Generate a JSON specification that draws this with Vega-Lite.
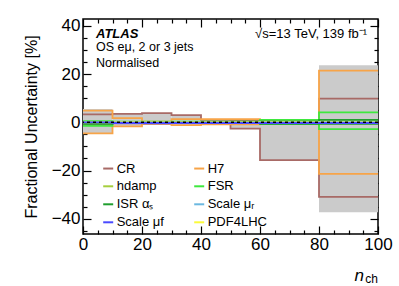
{
  "$schema": "https://vega.github.io/schema/vega-lite/v6.json",
  "width": 295,
  "height": 215,
  "autosize": {"type": "none"},
  "padding": {"left": 83, "top": 19, "right": 21, "bottom": 52},
  "background": "white",
  "config": {
    "view": {"stroke": "black", "strokeWidth": 1.5},
    "font": "Liberation Sans",
    "axis": {"grid": false, "domain": false, "tickColor": "black", "labelColor": "black", "titleColor": "black", "labelFont": "Liberation Sans", "titleFont": "Liberation Sans", "tickWidth": 1.2}
  },
  "datasets": {
    "band": [
      {"x0": 0, "x1": 10, "lo": -4.8, "hi": 5.5},
      {"x0": 10, "x1": 20, "lo": -1.7, "hi": 3.5},
      {"x0": 20, "x1": 30, "lo": -0.6, "hi": 3.8},
      {"x0": 30, "x1": 40, "lo": -1.2, "hi": 3.0},
      {"x0": 40, "x1": 50, "lo": -1.0, "hi": 1.3},
      {"x0": 50, "x1": 60, "lo": -2.6, "hi": 1.3},
      {"x0": 60, "x1": 80, "lo": -15.7, "hi": 1.2},
      {"x0": 80, "x1": 100, "lo": -37.3, "hi": 23.6}
    ],
    "sys": [
      {"s": "CR", "v": "CRa", "x": 0, "y": 3.3}, {"s": "CR", "v": "CRa", "x": 10, "y": 3.5}, {"s": "CR", "v": "CRa", "x": 20, "y": 3.8}, {"s": "CR", "v": "CRa", "x": 30, "y": 3.0}, {"s": "CR", "v": "CRa", "x": 40, "y": 1.0}, {"s": "CR", "v": "CRa", "x": 50, "y": 0.8}, {"s": "CR", "v": "CRa", "x": 60, "y": 0.5}, {"s": "CR", "v": "CRa", "x": 80, "y": 9.8}, {"s": "CR", "v": "CRa", "x": 100, "y": 9.8},
      {"s": "CR", "v": "CRb", "x": 0, "y": -0.6}, {"s": "CR", "v": "CRb", "x": 10, "y": -0.4}, {"s": "CR", "v": "CRb", "x": 20, "y": -0.6}, {"s": "CR", "v": "CRb", "x": 30, "y": -0.3}, {"s": "CR", "v": "CRb", "x": 40, "y": -0.6}, {"s": "CR", "v": "CRb", "x": 50, "y": -2.6}, {"s": "CR", "v": "CRb", "x": 60, "y": -15.7}, {"s": "CR", "v": "CRb", "x": 80, "y": -30.9}, {"s": "CR", "v": "CRb", "x": 100, "y": -30.9},
      {"s": "H7", "v": "H7u", "x": 0, "y": 4.8}, {"s": "H7", "v": "H7u", "x": 10, "y": 1.7}, {"s": "H7", "v": "H7u", "x": 20, "y": 0.3}, {"s": "H7", "v": "H7u", "x": 30, "y": 1.3}, {"s": "H7", "v": "H7u", "x": 40, "y": 1.3}, {"s": "H7", "v": "H7u", "x": 50, "y": 1.3}, {"s": "H7", "v": "H7u", "x": 60, "y": 0.3}, {"s": "H7", "v": "H7u", "x": 80, "y": 21.4}, {"s": "H7", "v": "H7u", "x": 100, "y": 21.4},
      {"s": "H7", "v": "H7d", "x": 0, "y": -4.6}, {"s": "H7", "v": "H7d", "x": 10, "y": -1.7}, {"s": "H7", "v": "H7d", "x": 20, "y": -0.4}, {"s": "H7", "v": "H7d", "x": 30, "y": -1.2}, {"s": "H7", "v": "H7d", "x": 40, "y": -0.9}, {"s": "H7", "v": "H7d", "x": 50, "y": -0.9}, {"s": "H7", "v": "H7d", "x": 60, "y": -0.3}, {"s": "H7", "v": "H7d", "x": 80, "y": -21.4}, {"s": "H7", "v": "H7d", "x": 100, "y": -21.4},
      {"s": "hdamp", "v": "hd", "x": 0, "y": 0.2}, {"s": "hdamp", "v": "hd", "x": 10, "y": 0.1}, {"s": "hdamp", "v": "hd", "x": 20, "y": 0.1}, {"s": "hdamp", "v": "hd", "x": 30, "y": 0.1}, {"s": "hdamp", "v": "hd", "x": 40, "y": 0.1}, {"s": "hdamp", "v": "hd", "x": 50, "y": 0.1}, {"s": "hdamp", "v": "hd", "x": 60, "y": 0.2}, {"s": "hdamp", "v": "hd", "x": 80, "y": 0.4}, {"s": "hdamp", "v": "hd", "x": 100, "y": 0.4},
      {"s": "FSR", "v": "FSRu", "x": 0, "y": 0.5}, {"s": "FSR", "v": "FSRu", "x": 10, "y": 0.3}, {"s": "FSR", "v": "FSRu", "x": 20, "y": 0.3}, {"s": "FSR", "v": "FSRu", "x": 30, "y": 0.3}, {"s": "FSR", "v": "FSRu", "x": 40, "y": 0.3}, {"s": "FSR", "v": "FSRu", "x": 50, "y": 0.3}, {"s": "FSR", "v": "FSRu", "x": 60, "y": 1.0}, {"s": "FSR", "v": "FSRu", "x": 80, "y": 4.1}, {"s": "FSR", "v": "FSRu", "x": 100, "y": 4.1},
      {"s": "FSR", "v": "FSRd", "x": 0, "y": -1.45}, {"s": "FSR", "v": "FSRd", "x": 10, "y": -0.3}, {"s": "FSR", "v": "FSRd", "x": 20, "y": -0.3}, {"s": "FSR", "v": "FSRd", "x": 30, "y": -0.3}, {"s": "FSR", "v": "FSRd", "x": 40, "y": -0.3}, {"s": "FSR", "v": "FSRd", "x": 50, "y": -0.3}, {"s": "FSR", "v": "FSRd", "x": 60, "y": -0.6}, {"s": "FSR", "v": "FSRd", "x": 80, "y": -2.8}, {"s": "FSR", "v": "FSRd", "x": 100, "y": -2.8},
      {"s": "ISR αₛ", "v": "ISRu", "x": 0, "y": 0.2}, {"s": "ISR αₛ", "v": "ISRu", "x": 10, "y": 0.1}, {"s": "ISR αₛ", "v": "ISRu", "x": 20, "y": 0.1}, {"s": "ISR αₛ", "v": "ISRu", "x": 30, "y": 0.1}, {"s": "ISR αₛ", "v": "ISRu", "x": 40, "y": 0.1}, {"s": "ISR αₛ", "v": "ISRu", "x": 50, "y": 0.1}, {"s": "ISR αₛ", "v": "ISRu", "x": 60, "y": 0.3}, {"s": "ISR αₛ", "v": "ISRu", "x": 80, "y": 1.0}, {"s": "ISR αₛ", "v": "ISRu", "x": 100, "y": 1.0},
      {"s": "ISR αₛ", "v": "ISRd", "x": 0, "y": -0.6}, {"s": "ISR αₛ", "v": "ISRd", "x": 10, "y": -0.2}, {"s": "ISR αₛ", "v": "ISRd", "x": 20, "y": -0.1}, {"s": "ISR αₛ", "v": "ISRd", "x": 30, "y": -0.1}, {"s": "ISR αₛ", "v": "ISRd", "x": 40, "y": -0.1}, {"s": "ISR αₛ", "v": "ISRd", "x": 50, "y": -0.2}, {"s": "ISR αₛ", "v": "ISRd", "x": 60, "y": -0.6}, {"s": "ISR αₛ", "v": "ISRd", "x": 80, "y": -0.6}, {"s": "ISR αₛ", "v": "ISRd", "x": 100, "y": -0.6},
      {"s": "Scale μᵣ", "v": "mur", "x": 0, "y": 0.1}, {"s": "Scale μᵣ", "v": "mur", "x": 10, "y": 0.1}, {"s": "Scale μᵣ", "v": "mur", "x": 20, "y": 0.0}, {"s": "Scale μᵣ", "v": "mur", "x": 30, "y": 0.0}, {"s": "Scale μᵣ", "v": "mur", "x": 40, "y": 0.0}, {"s": "Scale μᵣ", "v": "mur", "x": 50, "y": 0.0}, {"s": "Scale μᵣ", "v": "mur", "x": 60, "y": 0.1}, {"s": "Scale μᵣ", "v": "mur", "x": 80, "y": 0.2}, {"s": "Scale μᵣ", "v": "mur", "x": 100, "y": 0.2},
      {"s": "PDF4LHC", "v": "pdf", "x": 0, "y": 0}, {"s": "PDF4LHC", "v": "pdf", "x": 10, "y": 0}, {"s": "PDF4LHC", "v": "pdf", "x": 20, "y": 0}, {"s": "PDF4LHC", "v": "pdf", "x": 30, "y": 0}, {"s": "PDF4LHC", "v": "pdf", "x": 40, "y": 0}, {"s": "PDF4LHC", "v": "pdf", "x": 50, "y": 0}, {"s": "PDF4LHC", "v": "pdf", "x": 60, "y": 0}, {"s": "PDF4LHC", "v": "pdf", "x": 80, "y": 0}, {"s": "PDF4LHC", "v": "pdf", "x": 100, "y": 0},
      {"s": "Scale μf", "v": "muf", "x": 0, "y": 0.0}, {"s": "Scale μf", "v": "muf", "x": 10, "y": -0.3}, {"s": "Scale μf", "v": "muf", "x": 20, "y": -0.3}, {"s": "Scale μf", "v": "muf", "x": 30, "y": -0.3}, {"s": "Scale μf", "v": "muf", "x": 40, "y": -0.3}, {"s": "Scale μf", "v": "muf", "x": 50, "y": -0.3}, {"s": "Scale μf", "v": "muf", "x": 60, "y": -0.3}, {"s": "Scale μf", "v": "muf", "x": 80, "y": -0.3}, {"s": "Scale μf", "v": "muf", "x": 100, "y": -0.3}
    ]
  },
  "layer": [
    {
      "data": {"name": "band"},
      "mark": {"type": "rect", "color": "#cbcbcb"},
      "encoding": {
        "x": {"field": "x0", "type": "quantitative", "scale": {"domain": [0, 100], "nice": false, "zero": false},
          "axis": {"orient": "bottom", "values": [0,5,10,15,20,25,30,35,40,45,50,55,60,65,70,75,80,85,90,95,100],
            "labelExpr": "datum.value % 20 === 0 ? datum.label : ''", "labelFontSize": 17, "labelFlush": false, "labelPadding": 10,
            "tickSize": {"condition": {"test": "datum.value % 20 === 0", "value": -8}, "value": -4}, "title": null}},
        "x2": {"field": "x1"},
        "y": {"field": "lo", "type": "quantitative", "scale": {"domain": [-46.3, 42.8], "nice": false, "zero": false},
          "axis": {"orient": "left", "values": [-45,-40,-35,-30,-25,-20,-15,-10,-5,0,5,10,15,20,25,30,35,40],
            "labelExpr": "datum.value % 20 === 0 ? datum.label : ''", "labelFontSize": 17, "labelPadding": 11,
            "tickSize": {"condition": {"test": "datum.value % 20 === 0", "value": -8}, "value": -4},
            "title": "Fractional Uncertainty [%]", "titleFontSize": 16, "titleFontWeight": "normal", "titlePadding": 12}},
        "y2": {"field": "hi"}
      }
    },
    {
      "data": {"name": "sys"},
      "mark": {"type": "line", "interpolate": "step-after", "strokeWidth": 1.8},
      "encoding": {
        "x": {"field": "x", "type": "quantitative",
          "axis": {"orient": "top", "values": [0,5,10,15,20,25,30,35,40,45,50,55,60,65,70,75,80,85,90,95,100], "labels": false,
            "tickSize": {"condition": {"test": "datum.value % 20 === 0", "value": -8}, "value": -4}, "title": null}},
        "y": {"field": "y", "type": "quantitative",
          "axis": {"orient": "right", "values": [-45,-40,-35,-30,-25,-20,-15,-10,-5,0,5,10,15,20,25,30,35,40], "labels": false,
            "tickSize": {"condition": {"test": "datum.value % 20 === 0", "value": -8}, "value": -4}, "title": null}},
        "color": {"field": "s", "type": "nominal",
          "scale": {"domain": ["CR", "H7", "hdamp", "FSR", "ISR αₛ", "Scale μᵣ", "Scale μf", "PDF4LHC"],
                    "range": ["#a86a66", "#f7a448", "#a6cf3e", "#3ee83e", "#1f9e2e", "#6bb8e0", "#4a4aff", "#fbfb3c"]},
          "legend": {"orient": "none", "direction": "horizontal", "legendX": 18.7, "legendY": 142.8, "columns": 2, "title": null,
            "symbolType": "stroke", "symbolSize": 100, "symbolStrokeWidth": 2, "labelFontSize": 13, "labelFont": "Liberation Sans",
            "labelColor": "black", "rowPadding": 4, "columnPadding": 25, "labelOffset": 2, "padding": 0}},
        "detail": {"field": "v"}
      }
    },
    {
      "data": {"values": [{"y": 0}]},
      "mark": {"type": "rule", "color": "black", "strokeWidth": 1.5, "strokeDash": [3, 3]},
      "encoding": {"y": {"field": "y", "type": "quantitative", "axis": null}}
    },
    {
      "data": {"values": [{"t": "ATLAS"}]},
      "mark": {"type": "text", "align": "left", "baseline": "alphabetic", "fontSize": 13, "fontWeight": "bold", "fontStyle": "italic"},
      "encoding": {"x": {"datum": 4.4, "axis": null}, "y": {"datum": 35.0, "axis": null}, "text": {"field": "t"}}
    },
    {
      "data": {"values": [{"t": "OS eμ, 2 or 3 jets"}, {"t": "Normalised"}]},
      "mark": {"type": "text", "align": "left", "baseline": "alphabetic", "fontSize": 12.5},
      "encoding": {"x": {"datum": 4.4, "axis": null}, "y": {"field": "yy", "type": "quantitative", "axis": null}, "text": {"field": "t"}},
      "transform": [{"lookup": "t", "from": {"data": {"values": [{"t": "OS eμ, 2 or 3 jets", "yy": 29.7}, {"t": "Normalised", "yy": 23.0}]}, "key": "t", "fields": ["yy"]}}]
    },
    {
      "data": {"values": [{"t": "√s=13 TeV, 139 fb⁻¹"}]},
      "mark": {"type": "text", "align": "right", "baseline": "alphabetic", "fontSize": 13},
      "encoding": {"x": {"datum": 96.3, "axis": null}, "y": {"datum": 34.9, "axis": null}, "text": {"field": "t"}}
    },
    {
      "data": {"values": [{"t": "n"}]},
      "mark": {"type": "text", "align": "right", "baseline": "alphabetic", "fontSize": 17, "fontStyle": "italic", "dx": -14, "dy": 47},
      "encoding": {"x": {"datum": 100, "axis": null}, "y": {"datum": -46.3, "axis": null}, "text": {"field": "t"}}
    },
    {
      "data": {"values": [{"t": "ch"}]},
      "mark": {"type": "text", "align": "right", "baseline": "alphabetic", "fontSize": 12, "dx": 0, "dy": 49},
      "encoding": {"x": {"datum": 100, "axis": null}, "y": {"datum": -46.3, "axis": null}, "text": {"field": "t"}}
    }
  ],
  "resolve": {"axis": {"x": "independent", "y": "independent"}}
}
